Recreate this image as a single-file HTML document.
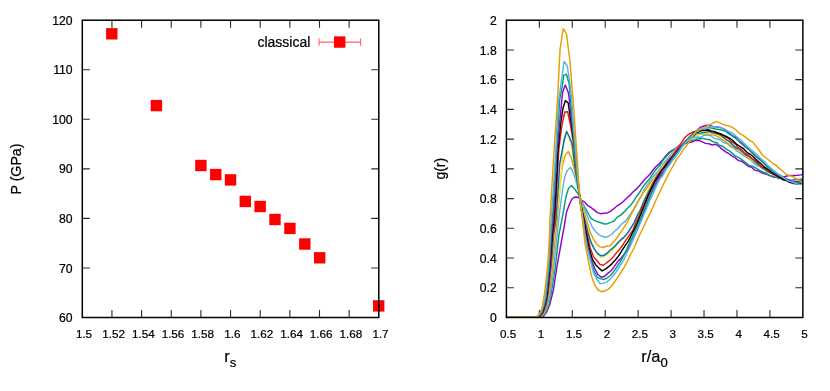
<!DOCTYPE html>
<html><head><meta charset="utf-8"><title>plot</title>
<style>html,body{margin:0;padding:0;background:#fff}svg{display:block}text{font-family:"Liberation Sans",Arial,Helvetica,sans-serif;fill:#000;stroke:#000;stroke-width:0.22px}</style></head><body>
<svg width="830" height="391" viewBox="0 0 830 391">
<rect width="830" height="391" fill="#fff"/>
<text x="72.6" y="322.1" font-size="12.2" text-anchor="end">60</text>
<path d="M82.30,267.95h7.5 M378.80,267.95h-7.5" stroke="#2a2a2a" stroke-width="1.10" fill="none"/>
<text x="72.6" y="272.5" font-size="12.2" text-anchor="end">70</text>
<path d="M82.30,218.40h7.5 M378.80,218.40h-7.5" stroke="#2a2a2a" stroke-width="1.10" fill="none"/>
<text x="72.6" y="223.0" font-size="12.2" text-anchor="end">80</text>
<path d="M82.30,168.85h7.5 M378.80,168.85h-7.5" stroke="#2a2a2a" stroke-width="1.10" fill="none"/>
<text x="72.6" y="173.4" font-size="12.2" text-anchor="end">90</text>
<path d="M82.30,119.30h7.5 M378.80,119.30h-7.5" stroke="#2a2a2a" stroke-width="1.10" fill="none"/>
<text x="72.6" y="123.9" font-size="12.2" text-anchor="end">100</text>
<path d="M82.30,69.75h7.5 M378.80,69.75h-7.5" stroke="#2a2a2a" stroke-width="1.10" fill="none"/>
<text x="72.6" y="74.3" font-size="12.2" text-anchor="end">110</text>
<text x="72.6" y="24.7" font-size="12.2" text-anchor="end">120</text>
<text x="84.0" y="337.7" font-size="11.7" text-anchor="middle">1.5</text>
<path d="M111.95,317.50v-7.5 M111.95,20.20v7.5" stroke="#2a2a2a" stroke-width="1.10" fill="none"/>
<text x="113.7" y="337.7" font-size="11.7" text-anchor="middle">1.52</text>
<path d="M141.60,317.50v-7.5 M141.60,20.20v7.5" stroke="#2a2a2a" stroke-width="1.10" fill="none"/>
<text x="143.3" y="337.7" font-size="11.7" text-anchor="middle">1.54</text>
<path d="M171.25,317.50v-7.5 M171.25,20.20v7.5" stroke="#2a2a2a" stroke-width="1.10" fill="none"/>
<text x="173.0" y="337.7" font-size="11.7" text-anchor="middle">1.56</text>
<path d="M200.90,317.50v-7.5 M200.90,20.20v7.5" stroke="#2a2a2a" stroke-width="1.10" fill="none"/>
<text x="202.6" y="337.7" font-size="11.7" text-anchor="middle">1.58</text>
<path d="M230.55,317.50v-7.5 M230.55,20.20v7.5" stroke="#2a2a2a" stroke-width="1.10" fill="none"/>
<text x="232.3" y="337.7" font-size="11.7" text-anchor="middle">1.6</text>
<path d="M260.20,317.50v-7.5 M260.20,20.20v7.5" stroke="#2a2a2a" stroke-width="1.10" fill="none"/>
<text x="261.9" y="337.7" font-size="11.7" text-anchor="middle">1.62</text>
<path d="M289.85,317.50v-7.5 M289.85,20.20v7.5" stroke="#2a2a2a" stroke-width="1.10" fill="none"/>
<text x="291.6" y="337.7" font-size="11.7" text-anchor="middle">1.64</text>
<path d="M319.50,317.50v-7.5 M319.50,20.20v7.5" stroke="#2a2a2a" stroke-width="1.10" fill="none"/>
<text x="321.2" y="337.7" font-size="11.7" text-anchor="middle">1.66</text>
<path d="M349.15,317.50v-7.5 M349.15,20.20v7.5" stroke="#2a2a2a" stroke-width="1.10" fill="none"/>
<text x="350.8" y="337.7" font-size="11.7" text-anchor="middle">1.68</text>
<text x="380.5" y="337.7" font-size="11.7" text-anchor="middle">1.7</text>
<text x="310.3" y="46.8" font-size="14" text-anchor="end">classical</text>
<path d="M319.1,42.1H360.6 M319.1,38.4v7.4 M360.6,38.4v7.4" stroke="#ff0000" stroke-opacity="0.6" stroke-width="1.1" fill="none"/>
<rect x="334.00" y="36.35" width="11.4" height="11.4" fill="#ff0000"/>
<rect x="106.10" y="28.10" width="11.4" height="11.4" fill="#ff0000"/>
<rect x="150.70" y="99.90" width="11.4" height="11.4" fill="#ff0000"/>
<rect x="195.20" y="159.80" width="11.4" height="11.4" fill="#ff0000"/>
<rect x="210.05" y="168.90" width="11.4" height="11.4" fill="#ff0000"/>
<rect x="224.85" y="174.20" width="11.4" height="11.4" fill="#ff0000"/>
<rect x="239.60" y="195.75" width="11.4" height="11.4" fill="#ff0000"/>
<rect x="254.45" y="200.80" width="11.4" height="11.4" fill="#ff0000"/>
<rect x="269.30" y="213.80" width="11.4" height="11.4" fill="#ff0000"/>
<rect x="284.20" y="222.70" width="11.4" height="11.4" fill="#ff0000"/>
<rect x="299.10" y="238.30" width="11.4" height="11.4" fill="#ff0000"/>
<rect x="314.00" y="252.10" width="11.4" height="11.4" fill="#ff0000"/>
<rect x="373.00" y="300.20" width="11.4" height="11.4" fill="#ff0000"/>
<rect x="82.30" y="20.20" width="296.50" height="297.30" fill="none" stroke="#000" stroke-width="1.5"/>
<text transform="translate(21.2,169.0) rotate(-90)" font-size="14.2" text-anchor="middle">P (GPa)</text>
<text x="224.3" y="362.2" font-size="16.4">r<tspan font-size="13.1" dy="5">s</tspan></text>
<text x="496.7" y="322.1" font-size="12.2" text-anchor="end">0</text>
<path d="M506.40,287.77h7.5 M802.85,287.77h-7.5" stroke="#2a2a2a" stroke-width="1.10" fill="none"/>
<text x="496.7" y="292.3" font-size="12.2" text-anchor="end">0.2</text>
<path d="M506.40,258.04h7.5 M802.85,258.04h-7.5" stroke="#2a2a2a" stroke-width="1.10" fill="none"/>
<text x="496.7" y="262.6" font-size="12.2" text-anchor="end">0.4</text>
<path d="M506.40,228.31h7.5 M802.85,228.31h-7.5" stroke="#2a2a2a" stroke-width="1.10" fill="none"/>
<text x="496.7" y="232.9" font-size="12.2" text-anchor="end">0.6</text>
<path d="M506.40,198.58h7.5 M802.85,198.58h-7.5" stroke="#2a2a2a" stroke-width="1.10" fill="none"/>
<text x="496.7" y="203.1" font-size="12.2" text-anchor="end">0.8</text>
<path d="M506.40,168.85h7.5 M802.85,168.85h-7.5" stroke="#2a2a2a" stroke-width="1.10" fill="none"/>
<text x="496.7" y="173.4" font-size="12.2" text-anchor="end">1</text>
<path d="M506.40,139.12h7.5 M802.85,139.12h-7.5" stroke="#2a2a2a" stroke-width="1.10" fill="none"/>
<text x="496.7" y="143.7" font-size="12.2" text-anchor="end">1.2</text>
<path d="M506.40,109.39h7.5 M802.85,109.39h-7.5" stroke="#2a2a2a" stroke-width="1.10" fill="none"/>
<text x="496.7" y="113.9" font-size="12.2" text-anchor="end">1.4</text>
<path d="M506.40,79.66h7.5 M802.85,79.66h-7.5" stroke="#2a2a2a" stroke-width="1.10" fill="none"/>
<text x="496.7" y="84.2" font-size="12.2" text-anchor="end">1.6</text>
<path d="M506.40,49.93h7.5 M802.85,49.93h-7.5" stroke="#2a2a2a" stroke-width="1.10" fill="none"/>
<text x="496.7" y="54.5" font-size="12.2" text-anchor="end">1.8</text>
<text x="496.7" y="24.7" font-size="12.2" text-anchor="end">2</text>
<text x="508.1" y="337.7" font-size="11.7" text-anchor="middle">0.5</text>
<path d="M539.34,317.50v-7.5 M539.34,20.20v7.5" stroke="#2a2a2a" stroke-width="1.10" fill="none"/>
<text x="541.0" y="337.7" font-size="11.7" text-anchor="middle">1</text>
<path d="M572.28,317.50v-7.5 M572.28,20.20v7.5" stroke="#2a2a2a" stroke-width="1.10" fill="none"/>
<text x="574.0" y="337.7" font-size="11.7" text-anchor="middle">1.5</text>
<path d="M605.22,317.50v-7.5 M605.22,20.20v7.5" stroke="#2a2a2a" stroke-width="1.10" fill="none"/>
<text x="606.9" y="337.7" font-size="11.7" text-anchor="middle">2</text>
<path d="M638.16,317.50v-7.5 M638.16,20.20v7.5" stroke="#2a2a2a" stroke-width="1.10" fill="none"/>
<text x="639.9" y="337.7" font-size="11.7" text-anchor="middle">2.5</text>
<path d="M671.09,317.50v-7.5 M671.09,20.20v7.5" stroke="#2a2a2a" stroke-width="1.10" fill="none"/>
<text x="672.8" y="337.7" font-size="11.7" text-anchor="middle">3</text>
<path d="M704.03,317.50v-7.5 M704.03,20.20v7.5" stroke="#2a2a2a" stroke-width="1.10" fill="none"/>
<text x="705.7" y="337.7" font-size="11.7" text-anchor="middle">3.5</text>
<path d="M736.97,317.50v-7.5 M736.97,20.20v7.5" stroke="#2a2a2a" stroke-width="1.10" fill="none"/>
<text x="738.7" y="337.7" font-size="11.7" text-anchor="middle">4</text>
<path d="M769.91,317.50v-7.5 M769.91,20.20v7.5" stroke="#2a2a2a" stroke-width="1.10" fill="none"/>
<text x="771.6" y="337.7" font-size="11.7" text-anchor="middle">4.5</text>
<text x="804.6" y="337.7" font-size="11.7" text-anchor="middle">5</text>
<g fill="none" stroke-width="1.45" stroke-linejoin="round" stroke-linecap="butt">
<path d="M506.4,317.2 L542.7,317.0 L546.4,312.6 L549.5,305.2 L551.9,296.0 L553.4,290.0 L556.4,270.0 L558.3,259.0 L562.6,235.0 L564.3,225.8 L566.4,212.5 L569.5,204.0 L572.0,199.0 L573.8,197.5 L576.3,197.0 L578.7,197.8 L581.8,200.3 L584.9,202.4 L587.9,205.8 L590.4,207.0 L593.7,209.6 L597.0,212.4 L600.3,213.7 L603.6,213.3 L606.8,213.1 L610.1,211.6 L613.4,209.0 L616.7,206.2 L620.0,204.1 L623.3,201.5 L626.6,198.2 L629.9,195.4 L633.2,191.8 L636.5,188.9 L639.7,185.4 L643.0,181.6 L646.3,177.8 L649.6,174.7 L652.9,170.2 L656.2,166.2 L659.5,163.6 L662.8,159.8 L666.1,155.4 L669.4,152.1 L672.6,150.2 L675.9,148.5 L679.2,146.7 L682.5,145.5 L685.8,143.4 L689.1,142.6 L692.4,141.8 L695.7,140.4 L699.0,140.4 L702.3,141.8 L705.5,143.4 L708.8,143.8 L712.1,145.0 L715.4,144.3 L718.7,146.2 L722.0,149.1 L725.3,151.6 L728.6,153.5 L731.9,155.9 L735.2,157.7 L738.4,160.6 L741.7,161.3 L745.0,163.6 L748.3,166.2 L751.6,167.2 L754.9,170.4 L758.2,170.9 L761.5,172.7 L764.8,173.9 L768.1,174.9 L771.3,176.3 L774.6,177.2 L777.9,176.9 L781.2,177.7 L784.5,176.7 L787.8,175.8 L791.1,175.4 L794.4,175.5 L797.7,175.3 L801.0,174.9 L802.8,174.0" stroke="#9400D3"/>
<path d="M506.4,317.2 L542.1,317.0 L545.8,312.6 L548.7,305.2 L550.8,296.0 L555.0,270.0 L556.2,259.0 L558.9,235.0 L560.7,225.8 L563.7,210.1 L566.1,196.0 L568.6,188.2 L571.5,185.5 L575.3,189.8 L579.0,195.3 L583.0,204.1 L587.8,212.5 L591.1,218.5 L594.4,220.4 L597.7,221.8 L601.0,222.8 L604.2,224.0 L607.5,223.7 L610.8,222.4 L614.1,221.0 L617.4,217.1 L620.7,215.1 L624.0,212.1 L627.3,208.6 L630.6,205.3 L633.9,200.7 L637.1,195.7 L640.4,191.2 L643.7,185.7 L647.0,181.7 L650.3,177.6 L653.6,172.6 L656.9,168.5 L660.2,165.1 L663.5,159.5 L666.8,155.8 L670.0,152.7 L673.3,150.1 L676.6,147.4 L679.9,145.2 L683.2,143.7 L686.5,142.0 L689.8,141.1 L693.1,140.1 L696.4,139.2 L699.7,138.7 L702.9,138.4 L706.2,139.2 L709.5,139.7 L712.8,141.7 L716.1,142.4 L719.4,145.3 L722.7,146.2 L726.0,149.1 L729.3,150.8 L732.6,153.6 L735.8,156.2 L739.1,157.9 L742.4,160.1 L745.7,162.6 L749.0,165.4 L752.3,166.2 L755.6,168.0 L758.9,169.9 L762.2,171.8 L765.5,173.0 L768.7,174.8 L772.0,176.2 L775.3,176.4 L778.6,178.6 L781.9,178.1 L785.2,179.3 L788.5,179.4 L791.8,180.4 L795.1,179.3 L798.4,179.4 L801.6,179.0 L802.8,179.0" stroke="#009E73"/>
<path d="M506.4,317.2 L541.2,317.0 L544.9,312.6 L547.7,305.2 L549.8,296.0 L553.8,270.0 L554.6,259.0 L557.2,235.0 L558.6,220.0 L562.8,188.0 L564.6,177.5 L567.1,170.7 L570.5,167.4 L573.8,173.8 L576.9,184.2 L578.6,191.0 L580.8,199.5 L585.0,210.0 L589.0,220.0 L592.3,227.1 L595.6,231.6 L598.9,234.8 L602.2,236.3 L605.4,237.2 L608.7,236.1 L612.0,234.0 L615.3,230.6 L618.6,227.8 L621.9,223.8 L625.2,221.4 L628.5,217.0 L631.8,212.2 L635.1,206.6 L638.3,201.0 L641.6,195.6 L644.9,188.4 L648.2,183.7 L651.5,178.5 L654.8,174.5 L658.1,171.2 L661.4,166.8 L664.7,161.9 L668.0,157.7 L671.2,154.4 L674.5,150.5 L677.8,146.2 L681.1,144.6 L684.4,142.3 L687.7,140.1 L691.0,138.5 L694.3,137.6 L697.6,137.0 L700.9,137.3 L704.1,135.1 L707.4,135.4 L710.7,135.5 L714.0,138.2 L717.3,139.0 L720.6,140.0 L723.9,142.7 L727.2,143.5 L730.5,146.5 L733.8,148.0 L737.0,151.2 L740.3,153.1 L743.6,155.6 L746.9,157.6 L750.2,159.6 L753.5,163.1 L756.8,165.5 L760.1,166.7 L763.4,168.6 L766.7,171.4 L769.9,172.9 L773.2,174.7 L776.5,175.7 L779.8,178.1 L783.1,178.3 L786.4,180.5 L789.7,180.5 L793.0,181.2 L796.3,181.5 L799.6,180.9 L802.8,181.3" stroke="#56B4E9"/>
<path d="M506.4,317.2 L540.6,317.0 L544.3,312.6 L547.0,305.2 L549.0,296.0 L552.6,270.0 L553.1,259.0 L555.6,235.0 L557.2,220.0 L560.0,187.0 L561.9,168.9 L562.8,164.0 L565.2,155.4 L568.3,151.4 L571.5,158.4 L573.0,164.5 L577.0,180.0 L580.5,199.5 L583.5,210.0 L586.6,220.0 L590.2,232.0 L593.5,239.4 L596.8,244.0 L600.1,247.0 L603.4,247.3 L606.6,246.2 L609.9,245.8 L613.2,242.2 L616.5,238.5 L619.8,233.7 L623.1,228.9 L626.4,223.7 L629.7,217.1 L633.0,210.9 L636.3,205.1 L639.5,198.7 L642.8,193.3 L646.1,189.4 L649.4,184.2 L652.7,179.9 L656.0,175.8 L659.3,171.6 L662.6,166.1 L665.9,162.8 L669.2,158.8 L672.4,153.8 L675.7,149.8 L679.0,146.3 L682.3,143.7 L685.6,140.6 L688.9,138.8 L692.2,136.7 L695.5,136.1 L698.8,134.7 L702.1,133.6 L705.3,134.3 L708.6,133.7 L711.9,134.5 L715.2,135.6 L718.5,136.8 L721.8,138.8 L725.1,141.3 L728.4,144.1 L731.7,146.1 L735.0,148.0 L738.2,149.8 L741.5,152.6 L744.8,155.0 L748.1,158.1 L751.4,159.6 L754.7,161.3 L758.0,164.4 L761.3,166.6 L764.6,168.0 L767.9,170.8 L771.1,172.8 L774.4,174.8 L777.7,176.1 L781.0,178.1 L784.3,178.9 L787.6,180.5 L790.9,181.5 L794.2,181.7 L797.5,181.5 L800.8,181.2 L802.8,181.5" stroke="#E69F00"/>
<path d="M506.4,317.2 L539.6,317.0 L543.3,312.6 L545.9,305.2 L547.8,296.0 L550.8,270.0 L551.7,259.0 L553.6,235.0 L555.9,220.0 L559.0,196.0 L560.2,187.0 L561.3,173.0 L562.3,158.0 L563.6,140.0 L566.3,130.8 L569.2,137.0 L571.6,147.0 L574.3,164.0 L576.2,179.0 L580.3,199.5 L582.5,210.0 L585.2,220.0 L588.4,232.0 L591.7,244.1 L595.0,250.6 L598.3,255.0 L601.6,257.5 L604.8,256.3 L608.1,253.7 L611.4,251.8 L614.7,247.4 L618.0,243.8 L621.3,240.5 L624.6,237.3 L627.9,232.7 L631.2,227.6 L634.5,222.0 L637.7,215.3 L641.0,207.2 L644.3,199.6 L647.6,191.4 L650.9,185.0 L654.2,178.7 L657.5,174.8 L660.8,170.7 L664.1,165.1 L667.4,161.1 L670.6,156.6 L673.9,152.5 L677.2,148.7 L680.5,145.8 L683.8,143.3 L687.1,140.9 L690.4,137.8 L693.7,136.0 L697.0,135.2 L700.3,134.2 L703.5,132.8 L706.8,132.7 L710.1,133.4 L713.4,134.0 L716.7,134.3 L720.0,135.9 L723.3,138.7 L726.6,140.3 L729.9,142.9 L733.2,145.6 L736.4,147.8 L739.7,150.0 L743.0,152.7 L746.3,155.4 L749.6,157.7 L752.9,160.8 L756.2,162.2 L759.5,166.0 L762.8,168.4 L766.1,170.5 L769.3,171.3 L772.6,173.9 L775.9,176.0 L779.2,178.0 L782.5,179.2 L785.8,180.4 L789.1,181.3 L792.4,182.5 L795.7,183.1 L799.0,182.4 L802.2,182.4 L802.8,183.2" stroke="#F0E442"/>
<path d="M506.4,317.2 L539.6,317.0 L543.3,312.6 L545.9,305.2 L547.8,296.0 L550.8,270.0 L551.7,259.0 L553.6,235.0 L555.9,220.0 L558.2,188.0 L559.7,164.0 L564.2,140.0 L566.7,131.6 L569.6,137.5 L572.2,144.0 L574.5,164.0 L576.8,180.0 L580.2,199.5 L582.2,210.0 L584.8,220.0 L587.8,232.0 L591.1,242.7 L594.4,249.1 L597.7,253.6 L601.0,255.9 L604.2,255.2 L607.5,252.8 L610.8,249.6 L614.1,247.0 L617.4,243.2 L620.7,239.9 L624.0,237.1 L627.3,233.5 L630.6,228.4 L633.9,223.1 L637.1,215.9 L640.4,210.1 L643.7,201.7 L647.0,195.1 L650.3,188.5 L653.6,181.9 L656.9,176.0 L660.2,172.1 L663.5,167.9 L666.8,162.1 L670.0,158.3 L673.3,154.8 L676.6,151.1 L679.9,147.5 L683.2,143.9 L686.5,141.1 L689.8,138.3 L693.1,136.7 L696.4,133.4 L699.7,133.1 L702.9,132.6 L706.2,132.1 L709.5,131.6 L712.8,132.9 L716.1,133.6 L719.4,134.4 L722.7,136.6 L726.0,139.3 L729.3,141.5 L732.6,144.6 L735.8,147.7 L739.1,148.8 L742.4,151.6 L745.7,154.9 L749.0,156.4 L752.3,159.1 L755.6,162.3 L758.9,164.8 L762.2,168.1 L765.5,169.7 L768.7,172.2 L772.0,173.1 L775.3,174.6 L778.6,177.8 L781.9,178.6 L785.2,179.7 L788.5,181.7 L791.8,182.1 L795.1,182.4 L798.4,182.7 L801.6,183.3 L802.8,182.6" stroke="#0072B2"/>
<path d="M506.4,317.2 L539.1,317.0 L542.8,312.6 L545.3,305.2 L547.2,296.0 L550.1,270.0 L551.0,259.0 L552.9,235.0 L555.0,220.0 L556.8,187.0 L558.8,150.0 L560.5,136.0 L562.2,124.0 L564.8,112.0 L567.6,111.7 L570.3,124.0 L573.6,145.0 L577.0,178.0 L580.1,199.5 L581.9,210.0 L584.2,220.0 L586.6,232.0 L590.2,247.7 L593.5,256.7 L596.8,260.5 L600.1,264.5 L603.4,265.3 L606.6,262.8 L609.9,260.4 L613.2,257.1 L616.5,252.8 L619.8,249.2 L623.1,244.5 L626.4,239.4 L629.7,235.0 L633.0,229.8 L636.3,221.7 L639.5,215.0 L642.8,206.0 L646.1,199.8 L649.4,192.0 L652.7,184.6 L656.0,178.6 L659.3,173.1 L662.6,169.0 L665.9,164.7 L669.2,160.1 L672.4,156.1 L675.7,151.0 L679.0,146.2 L682.3,141.3 L685.6,136.8 L688.9,134.1 L692.2,132.3 L695.5,131.5 L698.8,129.9 L702.1,130.4 L705.3,130.5 L708.6,129.6 L711.9,131.7 L715.2,132.2 L718.5,133.0 L721.8,134.2 L725.1,136.9 L728.4,138.3 L731.7,141.9 L735.0,143.5 L738.2,147.6 L741.5,149.5 L744.8,153.1 L748.1,155.0 L751.4,158.0 L754.7,160.3 L758.0,162.6 L761.3,166.8 L764.6,168.0 L767.9,171.1 L771.1,172.9 L774.4,174.5 L777.7,176.9 L781.0,178.4 L784.3,179.6 L787.6,181.1 L790.9,182.8 L794.2,183.9 L797.5,183.7 L800.8,183.8 L802.8,183.8" stroke="#E51E10"/>
<path d="M506.4,317.2 L538.7,317.0 L542.4,312.6 L544.9,305.2 L546.8,296.0 L549.6,270.0 L550.5,259.0 L552.3,235.0 L554.1,220.0 L556.2,187.0 L558.0,150.0 L559.5,136.0 L560.6,124.0 L563.0,108.0 L565.4,100.6 L568.2,103.0 L571.3,124.0 L573.7,140.0 L574.7,147.0 L577.6,178.0 L580.0,199.5 L581.7,210.0 L583.9,220.0 L586.0,232.0 L589.0,247.7 L592.3,259.2 L595.6,264.7 L598.9,268.1 L602.2,270.9 L605.4,269.1 L608.7,266.7 L612.0,263.6 L615.3,260.0 L618.6,256.0 L621.9,250.6 L625.2,245.7 L628.5,240.9 L631.8,234.2 L635.1,227.9 L638.3,220.5 L641.6,212.4 L644.9,204.1 L648.2,195.7 L651.5,188.6 L654.8,181.7 L658.1,176.5 L661.4,170.9 L664.7,166.7 L668.0,162.8 L671.2,158.7 L674.5,154.0 L677.8,150.4 L681.1,146.2 L684.4,143.7 L687.7,139.6 L691.0,136.5 L694.3,132.4 L697.6,132.3 L700.9,130.7 L704.1,130.3 L707.4,130.0 L710.7,130.9 L714.0,131.4 L717.3,133.0 L720.6,134.1 L723.9,135.4 L727.2,136.9 L730.5,138.8 L733.8,141.4 L737.0,144.7 L740.3,146.6 L743.6,148.7 L746.9,152.3 L750.2,154.3 L753.5,157.0 L756.8,160.3 L760.1,163.0 L763.4,166.3 L766.7,168.7 L769.9,170.9 L773.2,173.8 L776.5,175.3 L779.8,177.3 L783.1,179.7 L786.4,180.6 L789.7,182.2 L793.0,182.5 L796.3,183.6 L799.6,183.6 L802.8,183.6" stroke="#000000"/>
<path d="M506.4,317.2 L538.3,317.0 L542.0,312.6 L544.5,305.2 L546.4,296.0 L549.2,270.0 L550.0,259.0 L551.6,235.0 L553.1,220.0 L555.2,187.0 L557.0,150.0 L559.6,124.0 L561.8,100.0 L562.7,92.0 L565.3,85.1 L568.3,92.5 L569.4,100.0 L571.9,124.0 L574.3,140.0 L575.0,147.0 L577.9,178.0 L579.9,199.5 L581.4,210.0 L583.5,220.0 L585.6,235.0 L588.0,248.0 L591.4,260.0 L594.7,268.6 L598.0,274.5 L601.3,277.3 L604.6,276.2 L607.8,273.4 L611.1,270.7 L614.4,266.4 L617.7,261.6 L621.0,258.2 L624.3,254.0 L627.6,249.4 L630.9,243.7 L634.2,236.6 L637.5,229.2 L640.7,220.6 L644.0,212.3 L647.3,202.6 L650.6,194.7 L653.9,187.3 L657.2,180.6 L660.5,174.8 L663.8,170.9 L667.1,165.6 L670.4,160.5 L673.6,156.0 L676.9,151.3 L680.2,147.2 L683.5,143.9 L686.8,140.1 L690.1,136.2 L693.4,133.3 L696.7,130.7 L700.0,127.4 L703.3,126.2 L706.5,125.2 L709.8,125.8 L713.1,126.5 L716.4,127.1 L719.7,127.2 L723.0,128.6 L726.3,130.7 L729.6,133.6 L732.9,136.0 L736.2,137.7 L739.4,141.6 L742.7,144.4 L746.0,147.5 L749.3,150.0 L752.6,153.4 L755.9,156.5 L759.2,158.9 L762.5,162.1 L765.8,165.2 L769.1,167.6 L772.3,170.4 L775.6,173.7 L778.9,175.9 L782.2,176.4 L785.5,178.4 L788.8,180.1 L792.1,181.1 L795.4,181.4 L798.7,181.1 L802.0,180.6 L802.8,181.0" stroke="#9400D3"/>
<path d="M506.4,317.2 L537.8,317.0 L541.5,312.6 L544.0,305.2 L545.9,296.0 L548.7,270.0 L549.5,259.0 L551.0,235.0 L552.3,220.0 L554.5,187.0 L556.5,150.0 L558.4,124.0 L559.6,100.0 L562.3,85.9 L563.7,75.4 L566.5,74.2 L569.2,84.1 L570.6,100.0 L572.6,124.0 L574.5,147.0 L577.2,178.0 L579.8,199.5 L581.2,210.0 L583.2,220.0 L585.2,235.0 L587.6,248.0 L590.8,260.0 L594.1,271.0 L597.4,277.4 L600.7,278.9 L604.0,279.5 L607.2,277.8 L610.5,275.5 L613.8,271.4 L617.1,266.7 L620.4,261.6 L623.7,255.4 L627.0,248.8 L630.3,241.4 L633.6,234.4 L636.9,226.8 L640.1,219.9 L643.4,211.3 L646.7,204.3 L650.0,197.0 L653.3,189.8 L656.6,183.4 L659.9,178.3 L663.2,173.1 L666.5,167.6 L669.8,163.3 L673.0,158.3 L676.3,153.8 L679.6,149.9 L682.9,145.0 L686.2,141.3 L689.5,137.1 L692.8,133.9 L696.1,132.1 L699.4,130.5 L702.7,128.5 L705.9,128.2 L709.2,127.6 L712.5,128.3 L715.8,129.0 L719.1,129.5 L722.4,130.2 L725.7,131.4 L729.0,133.8 L732.3,135.8 L735.6,138.3 L738.8,140.8 L742.1,143.0 L745.4,146.2 L748.7,149.3 L752.0,152.1 L755.3,155.3 L758.6,159.1 L761.9,160.7 L765.2,164.7 L768.5,167.8 L771.7,170.3 L775.0,172.2 L778.3,174.6 L781.6,177.0 L784.9,178.3 L788.2,180.3 L791.5,181.8 L794.8,182.4 L798.1,182.9 L801.4,182.4 L802.8,182.5" stroke="#009E73"/>
<path d="M506.4,317.2 L537.2,317.0 L540.9,312.6 L543.4,305.2 L545.3,296.0 L548.0,270.0 L548.9,259.0 L550.3,235.0 L551.1,220.0 L553.5,187.0 L555.8,150.0 L557.1,124.0 L558.7,100.0 L561.6,79.3 L564.1,61.4 L567.3,66.0 L570.0,84.0 L571.7,100.0 L573.4,124.0 L575.2,147.0 L577.7,178.0 L579.9,199.5 L581.5,210.0 L582.9,220.0 L584.8,235.0 L587.2,248.0 L590.2,260.0 L593.5,272.9 L596.8,279.2 L600.1,283.7 L603.4,283.1 L606.6,282.1 L609.9,279.6 L613.2,275.7 L616.5,271.5 L619.8,266.1 L623.1,261.1 L626.4,254.2 L629.7,247.3 L633.0,239.9 L636.3,231.3 L639.5,224.9 L642.8,217.2 L646.1,209.4 L649.4,201.3 L652.7,194.6 L656.0,186.6 L659.3,179.9 L662.6,175.9 L665.9,169.4 L669.2,165.3 L672.4,160.6 L675.7,156.5 L679.0,152.0 L682.3,146.4 L685.6,143.1 L688.9,138.7 L692.2,135.9 L695.5,132.5 L698.8,130.3 L702.1,128.9 L705.3,128.8 L708.6,126.9 L711.9,126.8 L715.2,126.7 L718.5,126.9 L721.8,128.4 L725.1,129.3 L728.4,131.3 L731.7,132.6 L735.0,135.3 L738.2,138.0 L741.5,140.6 L744.8,143.9 L748.1,147.1 L751.4,150.2 L754.7,152.7 L758.0,155.7 L761.3,159.1 L764.6,161.8 L767.9,165.6 L771.1,168.2 L774.4,171.2 L777.7,173.6 L781.0,175.6 L784.3,178.2 L787.6,180.8 L790.9,181.6 L794.2,182.7 L797.5,183.9 L800.8,184.5 L802.8,183.3" stroke="#56B4E9"/>
<path d="M506.4,317.2 L536.6,317.0 L540.3,312.6 L542.7,305.2 L544.6,293.0 L547.2,270.0 L548.2,259.0 L549.5,235.0 L549.9,220.0 L552.3,180.0 L554.7,140.0 L555.9,124.0 L557.5,100.0 L559.5,60.0 L560.1,48.9 L563.2,28.7 L566.5,33.9 L569.8,60.0 L573.1,100.0 L574.8,124.0 L576.4,147.0 L578.5,180.0 L580.2,199.3 L582.4,220.0 L585.0,243.0 L588.2,260.0 L591.5,276.0 L594.8,285.2 L598.1,290.0 L601.4,291.7 L604.6,291.0 L607.9,289.6 L611.2,286.5 L614.5,282.0 L617.8,277.3 L621.1,272.0 L624.4,266.9 L627.7,260.6 L631.0,253.7 L634.3,247.5 L637.5,239.5 L640.8,232.5 L644.1,225.7 L647.4,218.6 L650.7,212.0 L654.0,204.5 L657.3,197.3 L660.6,190.5 L663.9,183.3 L667.2,176.9 L670.4,170.5 L673.7,164.8 L677.0,158.6 L680.3,154.6 L683.6,149.1 L686.9,145.4 L690.2,140.3 L693.5,134.7 L696.8,131.1 L700.1,128.7 L703.3,127.9 L706.6,126.1 L709.9,124.7 L713.2,123.0 L716.5,121.4 L719.8,122.9 L723.1,124.4 L726.4,125.5 L729.7,126.1 L733.0,127.9 L736.2,130.1 L739.5,133.5 L742.8,135.1 L746.1,137.6 L749.4,140.5 L752.7,141.9 L756.0,146.5 L759.3,150.5 L762.6,155.5 L765.9,157.7 L769.1,160.2 L772.4,163.2 L775.7,165.1 L779.0,168.1 L782.3,170.8 L785.6,173.8 L788.9,175.6 L792.2,176.1 L795.5,178.3 L798.8,180.0 L802.0,182.1 L802.8,182.7" stroke="#E69F00"/>
</g>
<rect x="506.40" y="20.20" width="296.45" height="297.30" fill="none" stroke="#000" stroke-width="1.5"/>
<text transform="translate(444.6,168.7) rotate(-90)" font-size="14" text-anchor="middle">g(r)</text>
<text x="641.3" y="362.4" font-size="16.4">r/a<tspan font-size="13.1" dy="5">0</tspan></text>
</svg></body></html>
